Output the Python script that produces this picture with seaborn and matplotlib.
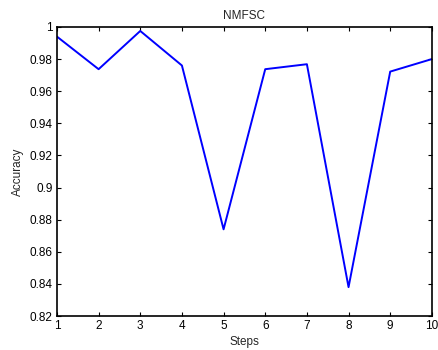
import numpy as np
import pandas as pd
import seaborn as sns
import matplotlib
matplotlib.use('Agg')
import matplotlib.pyplot as plt

# Data
steps = [1, 2, 3, 4, 5, 6, 7, 8, 9, 10]
accuracy = [0.994, 0.9737, 0.9975, 0.976, 0.874, 0.9737, 0.9768, 0.838, 0.9722, 0.980]
yticks = [0.82, 0.84, 0.86, 0.88, 0.9, 0.92, 0.94, 0.96, 0.98, 1]
ytick_labels = ['0.82', '0.84', '0.86', '0.88', '0.9', '0.92', '0.94', '0.96', '0.98', '1']

df = pd.DataFrame({'Steps': steps, 'Accuracy': accuracy})

sns.set_style('white')
plt.rcParams['font.family'] = ['Liberation Sans', 'DejaVu Sans']

fig = plt.figure(figsize=(4.38, 3.5), dpi=100)
ax = fig.add_axes([0.130, 0.097, 0.856, 0.826])

sns.lineplot(data=df, x='Steps', y='Accuracy', color='#0000ff', linewidth=1.4, ax=ax)

ax.set_xlim(1, 10)
ax.set_ylim(0.82, 1)
ax.set_xticks(steps)
ax.set_yticks(yticks)
ax.set_yticklabels(ytick_labels)
ax.tick_params(direction='in', length=3, width=0.8, labelsize=8.5, colors='black',
               top=True, right=True, bottom=True, left=True, pad=3)
for s in ax.spines.values():
    s.set_linewidth(1.2)
    s.set_color('black')
    s.set_visible(True)

ax.set_title('NMFSC', fontsize=8.5, pad=6)
ax.set_xlabel('Steps', fontsize=8.5, labelpad=3)
ax.set_ylabel('Accuracy', fontsize=8.5, labelpad=4)

fig.savefig('out.png', dpi=100)
